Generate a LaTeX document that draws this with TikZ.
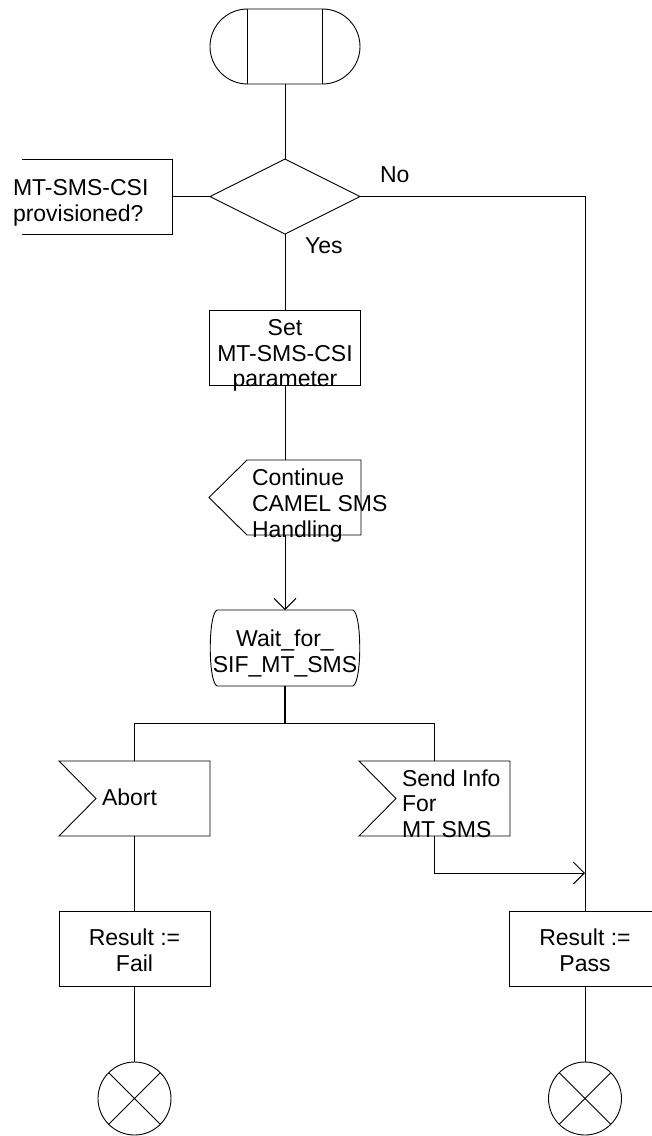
\documentclass[tikz,border=0pt]{standalone}
\usepackage{fontspec}
\setmainfont{Liberation Sans}
\usetikzlibrary{arrows.meta,shapes.geometric}
\begin{document}
\begin{tikzpicture}[x=1pt,y=-1pt,line width=0.9pt,
  every node/.style={font=\fontsize{23}{26}\selectfont, inner sep=0pt, outer sep=0pt},
  box/.style={draw, minimum width=151pt, minimum height=75pt},
  area/.style={minimum width=151pt, minimum height=75pt},
  txt/.style={anchor=base},
  txtl/.style={anchor=base west},
  arr/.style={-{Straight Barb[length=11pt,width=22pt,line width=0.9pt]}}]
\useasboundingbox (0,0) rectangle (652,1136);

% start
\node[draw, rounded corners=37.5pt, minimum width=150pt, minimum height=75pt] (start) at (285,46.5) {};
\draw (247.5,9) -- (247.5,84) (322.5,9) -- (322.5,84);

% decision
\node[draw, diamond, minimum width=150pt, minimum height=75pt] (dec) at (285,196.5) {};
\node[area, minimum width=150pt] (cmt) at (97,196.5) {};
\draw (cmt.north west) -- (cmt.north east) -- (cmt.south east) -- (cmt.south west);
\draw (cmt.east) -- (dec.west);
\node[txtl] at (13,195) {MT-SMS-CSI};
\node[txtl] at (13,221) {provisioned?};
\node[txtl] (no) at (380,182) {No};
\node[txtl] (yes) at (305,253) {Yes};

% set
\node[box] (set) at (285,347.5) {};
\node[txt] at (285,335) {Set};
\node[txt] at (285,361) {MT-SMS-CSI};
\node[txt] at (285,386) {parameter};

% continue (output)
\node[area, minimum width=152pt] (cont) at (285,497.5) {};
\draw (361,460) -- (361,535) -- (247,535) -- (209,497.5) -- (247,460) -- cycle;
\node[txtl] at (252,485) {Continue};
\node[txtl] at (252,511) {CAMEL SMS};
\node[txtl] at (252,537) {Handling};

% wait state
\node[area, minimum width=150pt, minimum height=76pt] (wait) at (285,648) {};
\draw (217,610) -- (353,610) .. controls (362,614) and (362,682) .. (353,686)
      -- (217,686) .. controls (208,682) and (208,614) .. (217,610) -- cycle;
\node[txt] at (285,646) {Wait\_for\_};
\node[txt] at (285,672) {SIF\_MT\_SMS};

% inputs
\node[area] (abort) at (134.5,798.5) {};
\draw (59,761) -- (210,761) -- (210,836) -- (59,836) -- (96,798.5) -- cycle;
\node[txtl] at (102,805) {Abort};

\node[area] (send) at (434.5,798.5) {};
\draw (359,761) -- (510,761) -- (510,836) -- (359,836) -- (396,798.5) -- cycle;
\node[txtl] at (402,786) {Send Info};
\node[txtl] at (402,811.5) {For};
\node[txtl] at (402,837) {MT SMS};

% tasks
\node[box] (fail) at (134.5,948.5) {};
\node[txt] at (134.5,945) {Result :=};
\node[txt] at (134.5,971) {Fail};

\node[box] (pass) at (585,948.5) {};
\node[txt] at (585,945) {Result :=};
\node[txt] at (585,971) {Pass};

% stops
\node[draw, circle, minimum size=73pt] (e1) at (134.5,1098.5) {};
\draw (e1.north west) -- (e1.south east) (e1.north east) -- (e1.south west);
\node[draw, circle, minimum size=73pt] (e2) at (585,1098.5) {};
\draw (e2.north west) -- (e2.south east) (e2.north east) -- (e2.south west);

% connectors
\coordinate (br) at (285,723);
\coordinate (join) at (585,873);
\draw (start.south) -- (dec.north);
\draw (dec.south) -- (set.north);
\draw (dec.east) -| (pass.north);
\draw (set.south) -- (cont.north);
\draw[arr] (cont.south) -- (wait.north);
\draw[line width=2pt] (wait.south) -- (br);
\draw (abort.north) |- (br);
\draw (br) -| (send.north);
\draw[arr] (send.south) |- (join);
\draw (abort.south) -- (fail.north);
\draw (fail.south) -- (e1.north);
\draw (pass.south) -- (e2.north);
\end{tikzpicture}
\end{document}
